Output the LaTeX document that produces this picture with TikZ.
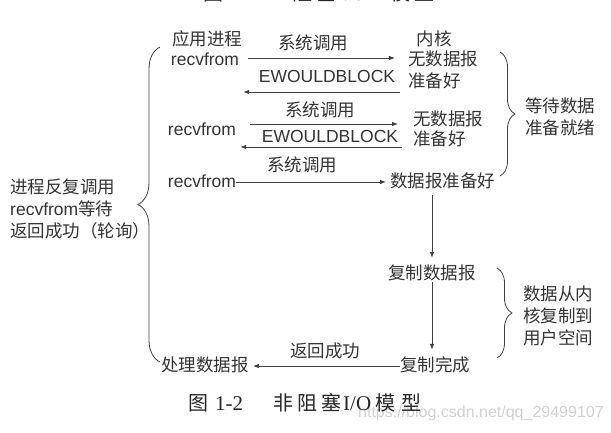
\documentclass[tikz,border=0pt]{standalone}
\usepackage{fontspec}
\setmainfont{Liberation Sans}
\newfontfamily\cjk{Noto Sans CJK SC}
\newfontfamily\capfont{Liberation Serif}
\usetikzlibrary{arrows.meta,calc,decorations.pathreplacing}
\newcommand{\zh}[1]{{\cjk #1}}
\newcommand{\capnum}[1]{{\capfont\fontsize{21}{24}\selectfont #1}}

\begin{document}
\begin{tikzpicture}[x=1pt, y=-1pt,
    txt/.style={inner sep=0pt, text height=13pt, text depth=3pt, font=\fontsize{17.5}{21}\selectfont, text=black!80},
    note/.style={inner sep=0pt, align=left, font=\fontsize{17.5}{22}\selectfont, text=black!80},
    capt/.style={inner sep=0pt, anchor=base west, font=\fontsize{20}{24}\selectfont, text=black!85},
    arr/.style={-{Latex[length=6pt,width=4.5pt]}, line width=0.8pt, draw=black!75},
    brc/.style={decorate, decoration={brace, amplitude=#1, aspect=0.5}, line width=0.8pt, draw=black!75}]
    \useasboundingbox (0,0) rectangle (611,432);

    % heading of the figure above, cut off by the page edge
    \node[capt] (prevcap) at (203,0.5)
      {\zh{图}\hspace{7pt}\capnum{1-1}\hspace{34pt}\zh{阻\hspace{4pt}塞}\hspace{2pt}\capnum{I/O}\hspace{24pt}\zh{模\hspace{4pt}型}};

    % first call: no datagram ready
    \node[txt] (app) at (207,40) {\zh{应用进程}};
    \node[txt] (recvA) at (205,60) {recvfrom};
    \node[txt] (kern) at (434,40) {\zh{内核}};
    \node[txt, anchor=west] (noneA) at (408,60) {\zh{无数据报}};
    \node[txt, anchor=west] (readyA) at (408,82) {\zh{准备好}};
    \node[txt] (callA) at (313,44) {\zh{系统调用}};
    \node[txt] (ewbA) at (327,77) {EWOULDBLOCK};
    \draw[arr] ($(recvA.east)+(9,-2)$) -- ($(noneA.west)+(-13,-2)$);
    \draw[arr] ($(readyA.west)+(-8,10)$) -- ($(recvA.east |- readyA.west)+(4,10)$);

    % second call: still nothing
    \node[txt] (recvB) at (202,130) {recvfrom};
    \node[txt, anchor=west] (noneB) at (413,120) {\zh{无数据报}};
    \node[txt, anchor=west] (readyB) at (413,140) {\zh{准备好}};
    \node[txt] (callB) at (320,111) {\zh{系统调用}};
    \node[txt] (ewbB) at (330,137) {EWOULDBLOCK};
    \draw[arr] ($(recvB.east |- noneB.west)+(14,4)$) -- ($(noneB.west)+(-15,4)$);
    \draw[arr] ($(readyB.west)+(-11,7)$) -- ($(recvB.east |- readyB.west)+(4,7)$);

    % third call: datagram ready
    \node[txt] (recvC) at (202,182) {recvfrom};
    \node[txt] (callC) at (302,166) {\zh{系统调用}};
    \node[txt, anchor=west] (readyC) at (390,182) {\zh{数据报准备好}};
    \draw[arr] (recvC.east) -- ($(readyC.west)+(-4,0)$);

    % copy from kernel to user space
    \node[txt] (copyA) at (432,274) {\zh{复制数据报}};
    \node[txt] (copyB) at (435,366) {\zh{复制完成}};
    \node[txt] (proc) at (205,366) {\zh{处理数据报}};
    \node[txt] (ret) at (325,352) {\zh{返回成功}};
    \draw[arr] ($(readyC.south -| copyA.north)+(0,5)$) -- ($(copyA.north)+(0,-8)$);
    \draw[arr] (copyA.south) -- ($(copyA.south |- copyB.north)+(0,-8)$);
    \draw[arr] (copyB.west) -- ($(proc.east)+(4,0)$);

    % braces and their notes
    \draw[brc=22] (160,362) -- (160,47);
    \node[note, anchor=west] (poll) at (10,209) {\zh{进程反复调用}\\recvfrom\zh{等待}\\\zh{返回成功（轮询）}};
    \draw[brc=15] (500,52) -- (500,176);
    \node[note, anchor=west] (wait) at (525,117) {\zh{等待数据}\\\zh{准备就绪}};
    \draw[brc=15] (497,268) -- (497,358);
    \node[note, anchor=west] (copy) at (523,316) {\zh{数据从内}\\\zh{核复制到}\\\zh{用户空间}};

    % caption and watermark
    \node[anchor=west, inner sep=0pt, font=\fontsize{16}{18}\selectfont, text=black!18] (mark) at (358,413) {https://blog.csdn.net/qq\_29499107};
    \node[capt] (cap) at (188,410)
      {\zh{图}\hspace{7pt}\capnum{1-2}\hspace{30pt}\zh{非\hspace{4pt}阻\hspace{4pt}塞}\hspace{2pt}\capnum{I/O}\hspace{4pt}\zh{模\hspace{6pt}型}};
  \end{tikzpicture}
\end{document}
